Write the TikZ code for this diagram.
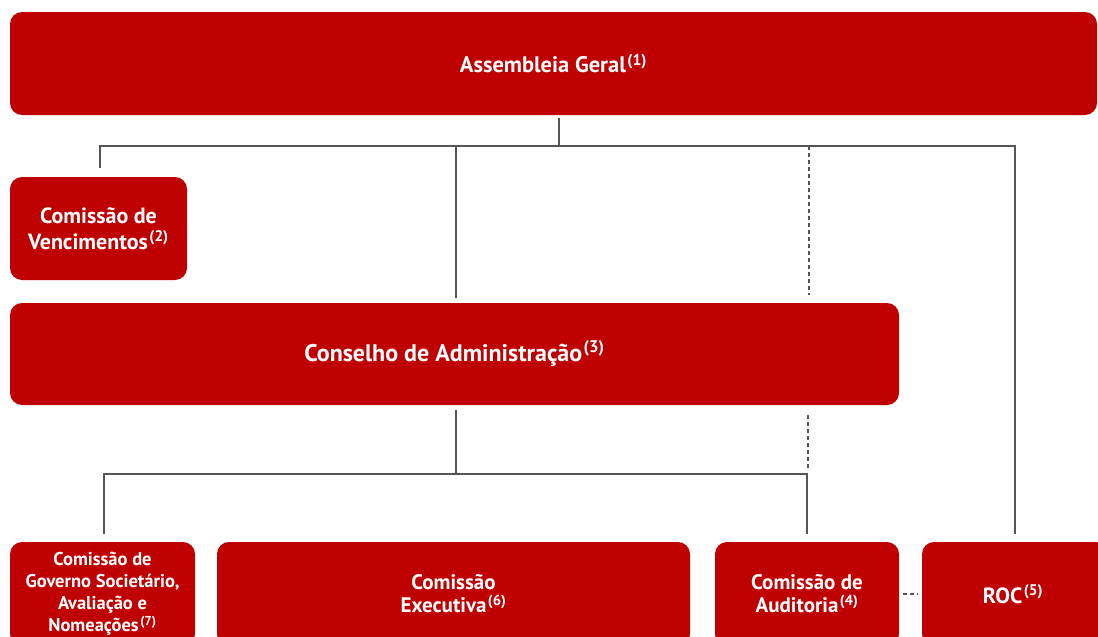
\documentclass[tikz,border=0pt]{standalone}
\usepackage{fontspec}
\setmainfont{PT Sans}
\definecolor{orgred}{RGB}{190,0,0}
\definecolor{orgline}{RGB}{85,85,85}
\newcommand{\nota}[1]{\kern1.5pt\textsuperscript{(#1)}}
\tikzset{
  orgbox/.style={fill=orgred,rounded corners=12pt,text=white,align=center,inner sep=0pt,font=\bfseries},
  conn/.style={draw=orgline,line width=1.1pt},
  dashline/.style={draw=orgline,line width=1.1pt,dash pattern=on 4pt off 3pt}
}
\begin{document}
\begin{tikzpicture}[x=1pt,y=-1pt]
\useasboundingbox (0,0) rectangle (1098,637);
\clip (0,0) rectangle (1098,637);
\node[orgbox,minimum width=1087pt,minimum height=103pt,font=\bfseries\fontsize{22.5}{26}\selectfont] (ag) at (553.5,63.5) {Assembleia Geral\nota{1}};
\node[orgbox,minimum width=177pt,minimum height=103pt,font=\bfseries\fontsize{22}{26}\selectfont] (venc) at (98.5,228.5) {Comissão de\\Vencimentos\nota{2}};
\node[orgbox,minimum width=889pt,minimum height=102pt,font=\bfseries\fontsize{24}{26}\selectfont] (cons) at (454.5,354) {Conselho de Administração\nota{3}};
\node[orgbox,minimum width=185pt,minimum height=104pt,font=\bfseries\fontsize{18.5}{22}\selectfont] (gov) at (102.5,594) {Comissão de\\Governo Societário,\\Avaliação e\\Nomeações\nota{7}};
\node[orgbox,minimum width=473pt,minimum height=104pt,font=\bfseries\fontsize{21}{23}\selectfont] (exec) at (453.5,594) {Comissão\\Executiva\nota{6}};
\node[orgbox,minimum width=184pt,minimum height=104pt,font=\bfseries\fontsize{21}{23}\selectfont] (audit) at (807,594) {Comissão de\\Auditoria\nota{4}};
\node[orgbox,minimum width=186pt,minimum height=104pt,font=\bfseries\fontsize{22}{23}\selectfont] (roc) at (1015,594) {\hspace*{-4pt}ROC\nota{5}};
\coordinate (bus1) at (559,146);
\coordinate (bus2) at (456,474);
\draw[conn] ([xshift=5.5pt,yshift=-3pt]ag.south) -- (bus1);
\draw[conn] ([xshift=1.5pt,yshift=9pt]venc.north) |- (bus1) -| ([yshift=8pt]roc.north);
\draw[conn] (bus1 -| bus2) -- ([yshift=5pt]cons.north -| bus2);
\draw[dashline] ([xshift=2pt]bus1 -| audit.north) -- ([xshift=2pt,yshift=8pt]cons.north -| audit.north);
\draw[conn] ([yshift=-5pt]cons.south -| bus2) -- (bus2);
\draw[conn] ([xshift=1.5pt,yshift=8pt]gov.north) |- (bus2) -| ([yshift=8pt]audit.north);
\draw[dashline] ([xshift=1pt,yshift=-10pt]cons.south -| audit.north) -- ([xshift=1pt,yshift=4pt]bus2 -| audit.north);
\draw[dashline] ([xshift=4pt]audit.east) -- ([xshift=-4pt]roc.west);
\end{tikzpicture}
\end{document}
